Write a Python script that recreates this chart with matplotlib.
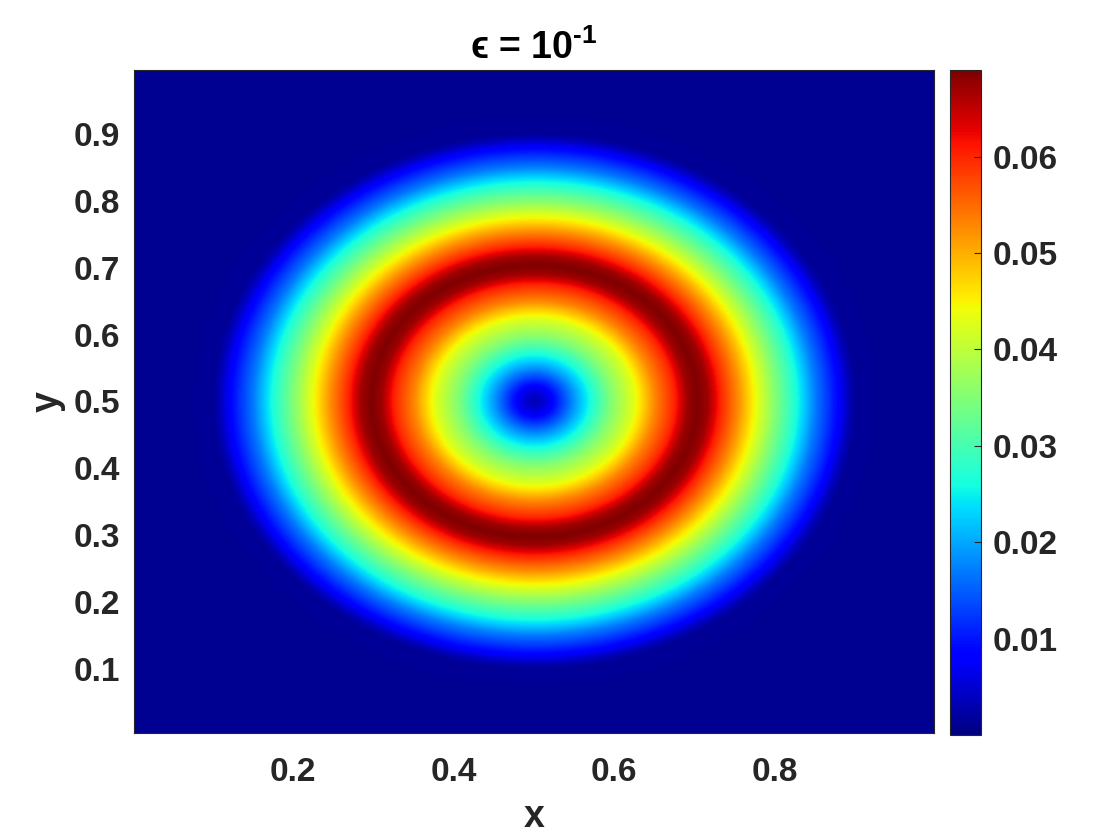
import numpy as np
import matplotlib
matplotlib.use("Agg")
from matplotlib import pyplot as plt

# radial profile of the field around (0.5, 0.5)
r_prof = [0.0, 0.016, 0.032, 0.05, 0.069, 0.095, 0.124, 0.15, 0.174, 0.19, 0.203,
          0.216, 0.232, 0.255, 0.278, 0.30, 0.327, 0.35, 0.377, 0.39, 0.40, 0.45, 0.75]
v_prof = [0.003, 0.006, 0.012, 0.019, 0.026, 0.035, 0.043, 0.053, 0.060, 0.067, 0.069,
          0.067, 0.060, 0.052, 0.043, 0.035, 0.026, 0.017, 0.009, 0.004, 0.0015, 0.0012, 0.0012]
x_ticks = [0.2, 0.4, 0.6, 0.8]
y_ticks = [0.1, 0.2, 0.3, 0.4, 0.5, 0.6, 0.7, 0.8, 0.9]
cb_ticks = [0.01, 0.02, 0.03, 0.04, 0.05, 0.06]

plt.rcParams['font.family'] = ['Liberation Sans', 'DejaVu Sans']
plt.rcParams['font.weight'] = 'bold'
plt.rcParams['mathtext.fontset'] = 'custom'
plt.rcParams['mathtext.rm'] = 'Liberation Sans:bold'
plt.rcParams['mathtext.bf'] = 'Liberation Sans:bold'

n = 400
xs = np.linspace(0.0025, 0.9975, n)
ys = np.linspace(0.005, 0.995, n)
X, Y = np.meshgrid(xs, ys)
R = np.hypot(X - 0.5, Y - 0.5)
Z = np.interp(R, r_prof, v_prof)

fig = plt.figure(figsize=(11.2, 8.4), dpi=100)
ax = fig.add_axes([0.1196, 0.1274, 0.7143, 0.7893])
cax = fig.add_axes([0.848, 0.125, 0.028, 0.7917])
tc = '#262626'

im = ax.imshow(Z, origin='lower', cmap='jet', vmin=0.0, vmax=0.069,
               extent=(0.0025, 0.9975, 0.005, 0.995), aspect='auto',
               interpolation='bilinear')
ax.set_xlim(0.0025, 0.9975)
ax.set_ylim(0.005, 0.995)
ax.set_xticks(x_ticks)
ax.set_yticks(y_ticks)
ax.set_xticklabels([f"{v:.1f}" for v in x_ticks])
ax.set_yticklabels([f"{v:.1f}" for v in y_ticks])
ax.tick_params(direction='in', length=0, labelsize=24, colors=tc, pad=10)
ax.tick_params(axis='x', pad=17)
ax.set_xlabel("x", fontsize=27, color=tc, fontweight='bold', labelpad=8)
ax.set_ylabel("y", fontsize=27, color=tc, fontweight='bold', labelpad=6)
ax.set_title("ϵ = 10$^{\\text{-1}}$", fontsize=27, color='black', fontweight='bold', pad=8)
for s in ax.spines.values():
    s.set_color(tc)
    s.set_linewidth(0.8)

cb = fig.colorbar(im, cax=cax, ticks=cb_ticks)
cb.ax.set_yticklabels([f"{v:.2f}" for v in cb_ticks])
cb.ax.tick_params(direction='in', length=5, width=0.8, labelsize=24, colors=tc, pad=8)
cb.outline.set_edgecolor(tc)
cb.outline.set_linewidth(0.8)

fig.savefig("out.png", dpi=100)
